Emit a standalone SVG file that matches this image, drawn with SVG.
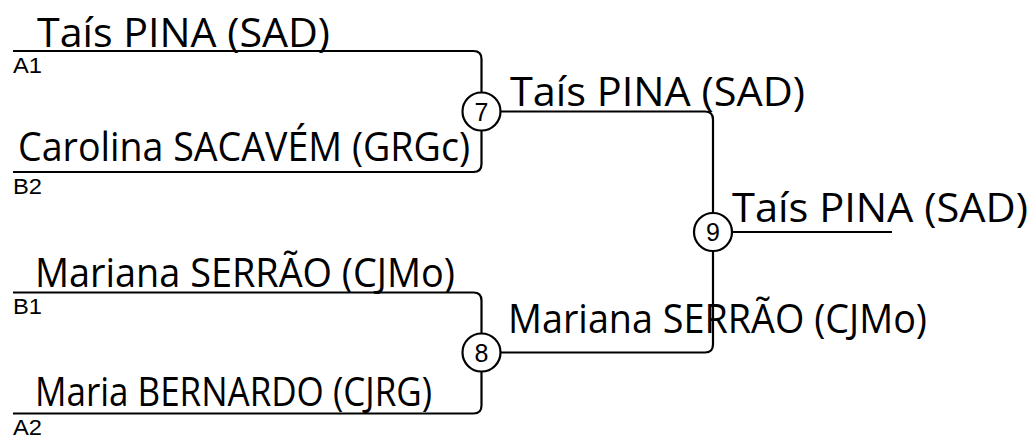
<svg xmlns="http://www.w3.org/2000/svg" width="1031" height="439" viewBox="0 0 1031 439">
<style>
.name{font-family:"Open Sans","Noto Sans",sans-serif;font-size:40px;fill:#000}
.lbl{font-family:"Liberation Sans",Arial,sans-serif;font-size:22px;fill:#000}
.num{font-family:"Liberation Sans",Arial,sans-serif;font-size:25px;fill:#000;text-anchor:middle}
.ln{fill:none;stroke:#000;stroke-width:2.2}
.circ{fill:#fff;stroke:#000;stroke-width:2.2}
</style>
<rect width="1031" height="439" fill="#fff"/>
<g id="connectors">
<path class="ln" d="M13,51 H473.5 Q481.5,51 481.5,59 V92.5"/>
<path class="ln" d="M13,172 H473.5 Q481.5,172 481.5,164 V130.5"/>
<path class="ln" d="M13,292.5 H473.5 Q481.5,292.5 481.5,300.5 V333.5"/>
<path class="ln" d="M13,413.5 H473.5 Q481.5,413.5 481.5,405.5 V371.5"/>
<path class="ln" d="M500.5,111.5 H705 Q713,111.5 713,119.5 V213"/>
<path class="ln" d="M500.5,352.5 H705 Q713,352.5 713,344.5 V251"/>
<path class="ln" d="M732,232 H892"/>
</g>
<g id="entry-a1">
<text class="name" x="37" y="47" textLength="293" lengthAdjust="spacingAndGlyphs">Taís PINA (SAD)</text>
<text class="lbl" x="13" y="73" textLength="29" lengthAdjust="spacingAndGlyphs">A1</text>
</g>
<g id="entry-b2">
<text class="name" x="18" y="161" textLength="452" lengthAdjust="spacingAndGlyphs">Carolina SACAVÉM (GRGc)</text>
<text class="lbl" x="13" y="194" textLength="29" lengthAdjust="spacingAndGlyphs">B2</text>
</g>
<g id="entry-b1">
<text class="name" x="35" y="287" textLength="420" lengthAdjust="spacingAndGlyphs">Mariana SERRÃO (CJMo)</text>
<text class="lbl" x="13" y="314" textLength="29" lengthAdjust="spacingAndGlyphs">B1</text>
</g>
<g id="entry-a2">
<text class="name" x="35" y="406" textLength="397" lengthAdjust="spacingAndGlyphs">Maria BERNARDO (CJRG)</text>
<text class="lbl" x="13" y="435" textLength="29" lengthAdjust="spacingAndGlyphs">A2</text>
</g>
<g id="match-7">
<circle class="circ" cx="481.5" cy="111.5" r="19"/>
<text class="num" x="481.5" y="120.5">7</text>
<text class="name" x="510" y="106" textLength="295" lengthAdjust="spacingAndGlyphs">Taís PINA (SAD)</text>
</g>
<g id="match-8">
<circle class="circ" cx="481.5" cy="352.5" r="19"/>
<text class="num" x="481.5" y="361.5">8</text>
<text class="name" x="508" y="333" textLength="419" lengthAdjust="spacingAndGlyphs">Mariana SERRÃO (CJMo)</text>
</g>
<g id="match-9">
<circle class="circ" cx="713" cy="232" r="19"/>
<text class="num" x="713" y="241">9</text>
<text class="name" x="732" y="222" textLength="296" lengthAdjust="spacingAndGlyphs">Taís PINA (SAD)</text>
</g>
</svg>
